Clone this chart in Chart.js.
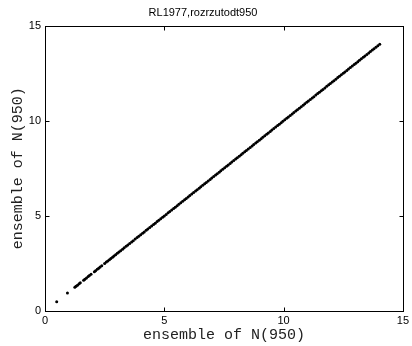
<!DOCTYPE html>
<html>
<head>
<meta charset="utf-8">
<script src="https://cdn.jsdelivr.net/npm/chart.js@4"></script>
<style>
  html, body { margin: 0; padding: 0; background: #fff; }
  #wrap { width: 412px; height: 346px; }
</style>
</head>
<body>
<div id="wrap"><canvas id="c" width="412" height="346"></canvas></div>
<script>
// Texts
const titleText = 'RL1977,rozrzutodt950';
const xAxisTitle = 'ensemble of N(950)';
const yAxisTitle = 'ensemble of N(950)';

// Axis ticks (both axes)
const tickValues = [0, 5, 10, 15];

// Ensemble values of N(950), plotted against themselves
const ensembleN950 = [
  0.49, 0.94,
  1.25, 1.30, 1.36, 1.43, 1.48, 1.62, 1.67, 1.74, 1.81, 1.86, 1.93,
  2.07, 2.12, 2.19, 2.25, 2.31, 2.38, 2.50, 2.57, 2.63, 2.70, 2.76, 2.83,
  2.89, 2.96, 3.03,
  3.10, 3.17, 3.25, 3.32, 3.40, 3.47, 3.55, 3.63, 3.70, 3.78, 3.86, 3.93, 4.01,
  4.09, 4.16, 4.24, 4.31, 4.39, 4.47, 4.55, 4.62, 4.70, 4.77, 4.85, 4.93, 5.00,
  5.08, 5.16, 5.23, 5.31, 5.39, 5.46, 5.54, 5.61, 5.69, 5.77, 5.85, 5.92, 6.00,
  6.07, 6.15, 6.23, 6.31, 6.38, 6.46, 6.53, 6.61, 6.69, 6.76, 6.84, 6.92, 6.99,
  7.07, 7.15, 7.22, 7.30, 7.37, 7.45, 7.53, 7.61, 7.68, 7.76, 7.83, 7.91, 7.99,
  8.06, 8.14, 8.22, 8.29, 8.37, 8.44, 8.52, 8.60, 8.68, 8.75, 8.83, 8.90, 8.98,
  9.06, 9.13, 9.21, 9.29, 9.36, 9.44, 9.51, 9.59, 9.67, 9.75, 9.82, 9.90, 9.97,
  10.05, 10.13, 10.20, 10.28, 10.36, 10.43, 10.51, 10.58, 10.66, 10.74, 10.82,
  10.89, 10.97, 11.04, 11.12, 11.20, 11.27, 11.35, 11.43, 11.50, 11.58, 11.65,
  11.73, 11.81, 11.89, 11.96, 12.04, 12.11, 12.19, 12.27, 12.34, 12.42, 12.50,
  12.57, 12.65, 12.72, 12.80, 12.88, 12.96, 13.03, 13.11, 13.18, 13.26, 13.34,
  13.41, 13.49, 13.57, 13.64, 13.72, 13.79, 13.87, 13.95, 14.03
];

// Closed box around the plot area with inward tick marks on all four sides
const framePlugin = {
  id: 'frame',
  afterDatasetsDraw(chart) {
    const { ctx, chartArea: a, scales: { x, y } } = chart;
    const L = 4;
    ctx.save();
    ctx.strokeStyle = '#000';
    ctx.lineWidth = 1;
    const l = Math.round(a.left) + 0.5, r = Math.round(a.right) + 0.5;
    const t = Math.round(a.top) + 0.5, b = Math.round(a.bottom) + 0.5;
    ctx.strokeRect(l, t, r - l, b - t);
    ctx.beginPath();
    tickValues.forEach(v => {
      const px = Math.round(x.getPixelForValue(v)) + 0.5;
      ctx.moveTo(px, b); ctx.lineTo(px, b - L);
      ctx.moveTo(px, t); ctx.lineTo(px, t + L);
      const py = Math.round(y.getPixelForValue(v)) + 0.5;
      ctx.moveTo(l, py); ctx.lineTo(l + L, py);
      ctx.moveTo(r, py); ctx.lineTo(r - L, py);
    });
    ctx.stroke();
    ctx.restore();
  }
};

const tickFont = { family: 'Liberation Sans', size: 11 };
const axisTitleFont = {
  family: "'Nimbus Mono PS', 'Nimbus Mono L', 'Courier New', Courier, FreeMono, 'Liberation Mono', monospace",
  size: 15
};

new Chart(document.getElementById('c'), {
  type: 'scatter',
  data: {
    datasets: [{
      data: ensembleN950.map(v => ({ x: v, y: v })),
      backgroundColor: '#000',
      borderColor: '#000',
      borderWidth: 0,
      pointRadius: 1.5,
      pointHoverRadius: 1.5
    }]
  },
  options: {
    responsive: false,
    animation: false,
    devicePixelRatio: 1,
    layout: { padding: { left: 0, right: 6, top: 0, bottom: 0 } },
    plugins: {
      legend: { display: false },
      tooltip: { enabled: false },
      title: {
        display: true,
        text: titleText,
        color: '#000',
        font: { family: 'Liberation Sans', size: 11, weight: 'normal' },
        padding: { top: 6.5, bottom: 6 }
      }
    },
    scales: {
      x: {
        type: 'linear',
        min: 0, max: 15,
        afterBuildTicks: s => { s.ticks = tickValues.map(v => ({ value: v })); },
        afterFit: s => { s.height = 35; },
        grid: { display: false, drawTicks: false },
        border: { display: false },
        ticks: { color: '#000', font: tickFont, padding: 3, maxRotation: 0 },
        title: { display: true, text: xAxisTitle, color: '#222', font: axisTitleFont, padding: { top: 0, bottom: 2 } }
      },
      y: {
        type: 'linear',
        min: 0, max: 15,
        afterBuildTicks: s => { s.ticks = tickValues.map(v => ({ value: v })); },
        afterFit: s => { s.width = 45; },
        grid: { display: false, drawTicks: false },
        border: { display: false },
        ticks: { color: '#000', font: tickFont, padding: 4 },
        title: { display: true, text: yAxisTitle, color: '#222', font: axisTitleFont, padding: { top: 9, bottom: 0 } }
      }
    }
  },
  plugins: [framePlugin]
});
</script>
</body>
</html>
